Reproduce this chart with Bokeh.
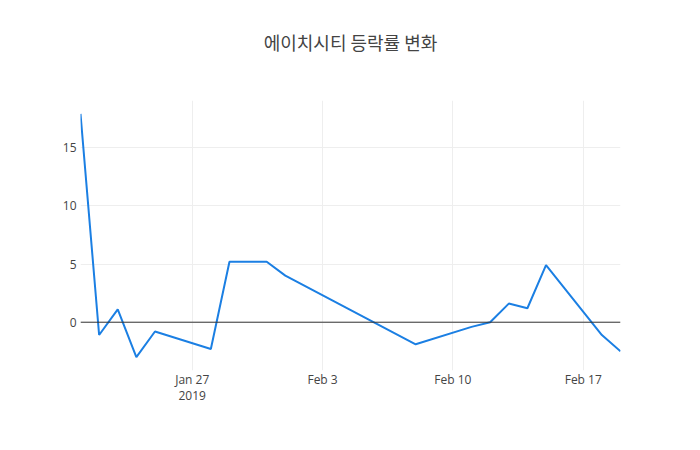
from datetime import datetime
from bokeh.plotting import figure
from bokeh.models import FixedTicker, Span, Range1d, DatetimeAxis, Title
from bokeh.embed import file_html
from bokeh.resources import INLINE

dates = ["2019-01-21", "2019-01-22", "2019-01-23", "2019-01-24", "2019-01-25",
         "2019-01-28", "2019-01-29", "2019-01-30", "2019-01-31", "2019-02-01",
         "2019-02-08", "2019-02-11", "2019-02-12", "2019-02-13", "2019-02-14",
         "2019-02-15", "2019-02-18", "2019-02-19"]
values = [17.9, -1.1, 1.1, -3.0, -0.8,
          -2.3, 5.2, 5.2, 5.2, 4.0,
          -1.9, -0.4, 0.0, 1.6, 1.2,
          4.9, -1.1, -2.5]
x_tick_dates = ["2019-01-27", "2019-02-03", "2019-02-10", "2019-02-17"]
x_tick_labels = ["Jan 27", "Feb 3", "Feb 10", "Feb 17"]
year_label = "2019"
y_ticks = [0, 5, 10, 15]
title = "에이치시티 등락률 변화"

xs = [datetime.strptime(d, "%Y-%m-%d") for d in dates]
def ms(d):
    return (datetime.strptime(d, "%Y-%m-%d") - datetime(1970, 1, 1)).total_seconds() * 1000.0

tick_ms = [ms(d) for d in x_tick_dates]

ymin, ymax = min(values), max(values)
pad = (ymax - ymin) * 0.055

p = figure(width=700, height=450, x_axis_type="datetime",
           output_backend="svg", toolbar_location=None,
           x_range=Range1d(ms(dates[0]), ms(dates[-1])),
           y_range=Range1d(ymin - pad, ymax + pad),
           min_border_left=80, min_border_right=80,
           min_border_top=100, min_border_bottom=80)
try:
    p.title = None
except Exception:
    p.title.text = ""
p.outline_line_color = None
p.background_fill_color = "white"
p.border_fill_color = "white"

# spacer (closest to the frame), then the real title above it
p.add_layout(Title(text=" ", text_font_size="12px", standoff=30), "above")
p.add_layout(Title(text=title, align="center", text_font="Noto Sans CJK KR",
                   text_font_size="18px", text_font_style="normal",
                   text_color="#444444", standoff=0), "above")

p.line(xs, values, line_color="#1b7fe3", line_width=2)

p.add_layout(Span(location=0, dimension="width", line_color="#333333", line_width=1))

p.xaxis.ticker = FixedTicker(ticks=tick_ms)
p.xaxis.major_label_overrides = {t: l for t, l in zip(tick_ms, x_tick_labels)}
p.yaxis.ticker = FixedTicker(ticks=y_ticks)

year_axis = DatetimeAxis(ticker=FixedTicker(ticks=[tick_ms[0]]),
                         major_label_overrides={tick_ms[0]: year_label})
p.add_layout(year_axis, "below")

axes = [p.xaxis[0], p.yaxis[0], year_axis]
for ax in axes:
    ax.axis_line_color = None
    ax.major_tick_line_color = None
    ax.minor_tick_line_color = None
    ax.major_tick_out = 0
    ax.major_tick_in = 0
    ax.minor_tick_out = 0
    ax.minor_tick_in = 0
    ax.major_label_text_font = "Open Sans"
    ax.major_label_text_font_size = "12px"
    ax.major_label_text_color = "#444444"
p.yaxis.major_label_standoff = 4
p.xaxis[0].major_label_standoff = 0
year_axis.major_label_standoff = 0

p.xgrid.grid_line_color = "#eeeeee"
p.ygrid.grid_line_color = "#eeeeee"
p.xgrid.ticker = FixedTicker(ticks=tick_ms)
p.ygrid.ticker = FixedTicker(ticks=y_ticks)

open("out.html", "w").write(file_html(p, INLINE))
